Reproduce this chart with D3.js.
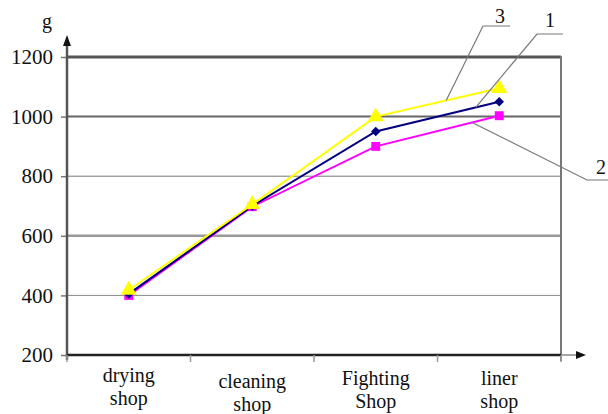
<!DOCTYPE html>
<html><head><meta charset="utf-8">
<script src="https://cdn.jsdelivr.net/npm/d3@7"></script>
</head><body style="margin:0;background:#fff"><svg id="c" width="608" height="414" style="display:block"></svg>
<script>
const categories = [["drying","shop"],["cleaning","shop"],["Fighting","Shop"],["liner","shop"]];
const series1 = [405, 700, 950, 1050];   // label 1, navy diamonds
const series2 = [400, 698, 900, 1003];   // label 2, magenta squares
const series3 = [418, 705, 1000, 1095];  // label 3, yellow triangles
const yTicks = [200, 400, 600, 800, 1000, 1200];
const yLabel = "g";
const FONT = "'Liberation Serif', 'Times New Roman', serif";

const svg = d3.select("#c").style("font-family", FONT, "important");
const L = 67, R = 561, T = 57, B = 355;
const x = d3.scaleBand().domain(d3.range(categories.length)).range([L, R]);
const y = d3.scaleLinear().domain([200, 1200]).range([B, T]);
const cx = i => x(i) + x.bandwidth() / 2;
const txt = sel => sel.style("font-family", FONT, "important").attr("fill", "#111");

// grid lines
const gridStyle = {1200:["#555",3],1000:["#666",2],800:["#777",1],600:["#999",2.5],400:["#888",1]};
yTicks.filter(v => v > 200).forEach(v => {
  svg.append("line").attr("x1", L).attr("x2", R).attr("y1", y(v)).attr("y2", y(v))
    .attr("stroke", gridStyle[v][0]).attr("stroke-width", gridStyle[v][1]);
});
// right border
svg.append("line").attr("x1", R).attr("x2", R).attr("y1", T - 1).attr("y2", B + 6)
  .attr("stroke", "#777").attr("stroke-width", 2);

// y axis
const yAxis = svg.append("g").attr("transform", `translate(${L},0)`)
  .call(d3.axisLeft(y).tickValues(yTicks).tickFormat(d3.format("d")).tickSize(6).tickPadding(8))
  .attr("font-family", null).attr("font-size", 21);
yAxis.select(".domain").remove();
yAxis.selectAll(".tick line").attr("stroke", "#777").attr("stroke-width", 1.5);
yAxis.selectAll(".tick text").call(txt).attr("font-size", 21);
svg.append("line").attr("x1", L).attr("x2", L).attr("y1", 44).attr("y2", B + 5)
  .attr("stroke", "#555").attr("stroke-width", 2.5);
svg.append("path").attr("d", `M${L},35 L${L-4},46 L${L+4},46 Z`).attr("fill", "#111");
svg.append("text").attr("x", 52).attr("y", 28).attr("text-anchor", "end")
  .attr("font-size", 20).call(txt).text(yLabel);

// x axis
svg.append("line").attr("x1", L).attr("x2", R).attr("y1", B).attr("y2", B)
  .attr("stroke", "#222").attr("stroke-width", 2.5);
svg.append("line").attr("x1", R).attr("x2", 578).attr("y1", B).attr("y2", B)
  .attr("stroke", "#888").attr("stroke-width", 1.5);
svg.append("path").attr("d", `M586,${B} L576,${B-4} L576,${B+4} Z`).attr("fill", "#111");
d3.range(categories.length + 1).forEach(i => {
  const xx = i < categories.length ? x(i) : R;
  svg.append("line").attr("x1", xx).attr("x2", xx).attr("y1", B).attr("y2", B + 7)
    .attr("stroke", "#999").attr("stroke-width", 1.5);
});
const labelY = [382, 388, 385, 385];
categories.forEach((c, i) => {
  const t = svg.append("text").attr("text-anchor", "middle").attr("font-size", 20).call(txt);
  c.forEach((line, j) => t.append("tspan").attr("x", cx(i)).attr("y", labelY[i] + j * 23).text(line));
});

// series lines
const line = d3.line().x((d, i) => cx(i)).y(d => y(d));
const defs = [
  {data: series2, color: "#ff00ff", shape: d3.symbolSquare, size: 80, rot: 0},
  {data: series1, color: "#000080", shape: d3.symbolSquare, size: 45, rot: 45},
  {data: series3, color: "#ffff00", shape: d3.symbolTriangle, size: 110, rot: 0}
];
defs.forEach(s => {
  svg.append("path").datum(s.data).attr("d", line).attr("fill", "none")
    .attr("stroke", s.color).attr("stroke-width", 2);
});
defs.forEach(s => {
  svg.selectAll(null).data(s.data).enter().append("path")
    .attr("transform", (d, i) => `translate(${cx(i)},${y(d)}) rotate(${s.rot})`)
    .attr("d", d3.symbol().type(s.shape).size(s.size)).attr("fill", s.color);
});

// callouts
function pointOn(data, t) {
  const a = 2, b = 3;
  return [cx(a) + (cx(b) - cx(a)) * t, y(data[a]) + (y(data[b]) - y(data[a])) * t];
}
const callouts = [
  {label: "3", data: series3, t: 0.57, elbow: [483, 26], end: 510, tx: 500, ty: 23},
  {label: "1", data: series1, t: 0.81, elbow: [537, 34], end: 563, tx: 550, ty: 27},
  {label: "2", data: series2, t: 0.78, elbow: [587, 180], end: 608, tx: 601, ty: 174}
];
callouts.forEach(c => {
  const p = pointOn(c.data, c.t);
  svg.append("polyline")
    .attr("points", `${p[0]},${p[1]} ${c.elbow[0]},${c.elbow[1]} ${c.end},${c.elbow[1]}`)
    .attr("fill", "none").attr("stroke", "#777").attr("stroke-width", 1.2);
  svg.append("text").attr("x", c.tx).attr("y", c.ty).attr("text-anchor", "middle")
    .attr("font-size", 20).call(txt).text(c.label);
});
</script></body></html>
